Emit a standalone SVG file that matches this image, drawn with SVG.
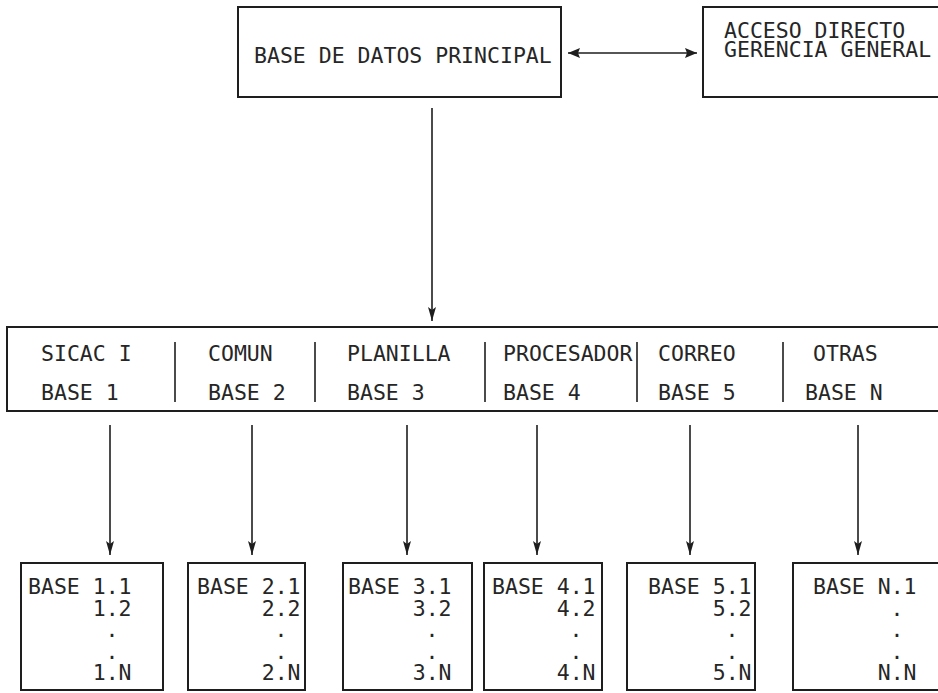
<svg xmlns="http://www.w3.org/2000/svg" width="938" height="693" viewBox="0 0 938 693">
  <style>
    .box { fill: #ffffff; stroke: #1e1e1e; stroke-width: 2; }
    .div { stroke: #1e1e1e; stroke-width: 1.6; }
    .wire { stroke: #1e1e1e; stroke-width: 1.6; fill: none; }
    .t { font-family: "DejaVu Sans Mono", "Liberation Mono", monospace; font-size: 21.5px; fill: #262626; }
  </style>
  <defs>
    <marker id="head" markerUnits="userSpaceOnUse" markerWidth="16" markerHeight="10" refX="14" refY="5" orient="auto">
      <path d="M0,1 L14,5 L0,9 L3,5 z" fill="#1e1e1e"/>
    </marker>
    <marker id="head2" markerUnits="userSpaceOnUse" markerWidth="14" markerHeight="12" refX="12" refY="6" orient="auto-start-reverse">
      <path d="M0,1 L12,6 L0,11 L2,6 z" fill="#1e1e1e"/>
    </marker>
  </defs>
  <rect width="938" height="693" fill="#ffffff"/>

  <!-- main database -->
  <g id="principal">
    <rect class="box" x="238" y="7" width="323" height="90"/>
    <text class="t" x="254" y="63">BASE DE DATOS PRINCIPAL</text>
  </g>

  <!-- direct access for general management -->
  <g id="gerencia">
    <rect class="box" x="703" y="7" width="245" height="90"/>
    <text class="t" font-size="21"><tspan x="724" y="38">ACCESO DIRECTO</tspan><tspan x="724" y="57">GERENCIA GENERAL</tspan></text>
  </g>

  <!-- row of subsystem bases -->
  <g id="sistemas">
    <rect class="box" x="7" y="327" width="940" height="84"/>
    <line class="div" x1="175" y1="342" x2="175" y2="402"/>
    <line class="div" x1="315" y1="342" x2="315" y2="402"/>
    <line class="div" x1="485" y1="342" x2="485" y2="402"/>
    <line class="div" x1="637" y1="342" x2="637" y2="402"/>
    <line class="div" x1="783" y1="342" x2="783" y2="402"/>
    <text class="t" x="41" y="361">SICAC I</text>
    <text class="t" x="41" y="400">BASE 1</text>
    <text class="t" x="208" y="361">COMUN</text>
    <text class="t" x="208" y="400">BASE 2</text>
    <text class="t" x="347" y="361">PLANILLA</text>
    <text class="t" x="347" y="400">BASE 3</text>
    <text class="t" x="503" y="361">PROCESADOR</text>
    <text class="t" x="503" y="400">BASE 4</text>
    <text class="t" x="658" y="361">CORREO</text>
    <text class="t" x="658" y="400">BASE 5</text>
    <text class="t" x="813" y="361">OTRAS</text>
    <text class="t" x="805" y="400">BASE N</text>
  </g>

  <!-- sub-bases: each list is one text block -->
  <g id="base1">
    <rect class="box" x="21" y="563" width="142" height="127"/>
    <text class="t"><tspan x="28" y="594">BASE 1.1</tspan><tspan x="92.7" y="615.5">1.2</tspan><tspan x="105.6" y="637">.</tspan><tspan x="105.6" y="658.5">.</tspan><tspan x="92.7" y="680">1.N</tspan></text>
  </g>
  <g id="base2">
    <rect class="box" x="188" y="563" width="117" height="127"/>
    <text class="t"><tspan x="197" y="594">BASE 2.1</tspan><tspan x="261.7" y="615.5">2.2</tspan><tspan x="274.6" y="637">.</tspan><tspan x="274.6" y="658.5">.</tspan><tspan x="261.7" y="680">2.N</tspan></text>
  </g>
  <g id="base3">
    <rect class="box" x="343" y="563" width="129" height="127"/>
    <text class="t"><tspan x="348" y="594">BASE 3.1</tspan><tspan x="412.7" y="615.5">3.2</tspan><tspan x="425.6" y="637">.</tspan><tspan x="425.6" y="658.5">.</tspan><tspan x="412.7" y="680">3.N</tspan></text>
  </g>
  <g id="base4">
    <rect class="box" x="484" y="563" width="118" height="127"/>
    <text class="t"><tspan x="492" y="594">BASE 4.1</tspan><tspan x="556.7" y="615.5">4.2</tspan><tspan x="569.6" y="637">.</tspan><tspan x="569.6" y="658.5">.</tspan><tspan x="556.7" y="680">4.N</tspan></text>
  </g>
  <g id="base5">
    <rect class="box" x="627" y="563" width="128" height="127"/>
    <text class="t"><tspan x="648" y="594">BASE 5.1</tspan><tspan x="712.7" y="615.5">5.2</tspan><tspan x="725.6" y="637">.</tspan><tspan x="725.6" y="658.5">.</tspan><tspan x="712.7" y="680">5.N</tspan></text>
  </g>
  <g id="baseN">
    <rect class="box" x="793" y="563" width="160" height="127"/>
    <text class="t"><tspan x="813" y="594">BASE N.1</tspan><tspan x="890.6" y="615.5">.</tspan><tspan x="890.6" y="637">.</tspan><tspan x="890.6" y="658.5">.</tspan><tspan x="877.7" y="680">N.N</tspan></text>
  </g>

  <!-- connectors -->
  <g id="connectors">
    <line class="wire" x1="568" y1="53" x2="697" y2="53" marker-start="url(#head2)" marker-end="url(#head2)"/>
    <line class="wire" x1="432" y1="108" x2="432" y2="321" marker-end="url(#head)"/>
    <line class="wire" x1="110" y1="425" x2="110" y2="555" marker-end="url(#head)"/>
    <line class="wire" x1="252" y1="425" x2="252" y2="555" marker-end="url(#head)"/>
    <line class="wire" x1="407" y1="425" x2="407" y2="555" marker-end="url(#head)"/>
    <line class="wire" x1="537" y1="425" x2="537" y2="555" marker-end="url(#head)"/>
    <line class="wire" x1="690" y1="425" x2="690" y2="555" marker-end="url(#head)"/>
    <line class="wire" x1="858" y1="425" x2="858" y2="555" marker-end="url(#head)"/>
  </g>
</svg>
